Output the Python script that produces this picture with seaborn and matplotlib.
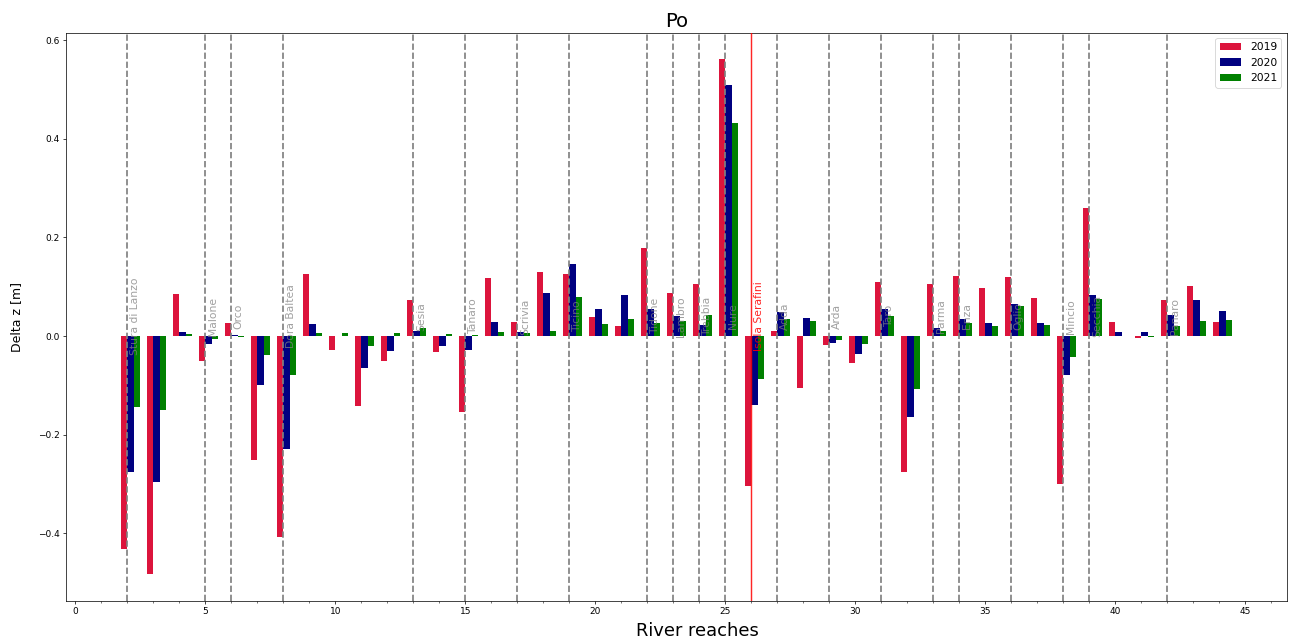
import numpy as np
import pandas as pd
import matplotlib
matplotlib.use("Agg")
import matplotlib.pyplot as plt
from matplotlib.ticker import MultipleLocator
import seaborn as sns

# ---- data ----
reaches = list(range(2, 45))
dz_2019 = [-0.432, -0.483, 0.085, -0.050, 0.026, -0.251, -0.408, 0.126, -0.028, -0.141,
           -0.050, 0.073, -0.033, -0.154, 0.117, 0.028, 0.130, 0.126, 0.038, 0.020,
           0.178, 0.088, 0.105, 0.562, -0.304, 0.011, -0.106, -0.019, -0.055, 0.110,
           -0.275, 0.105, 0.121, 0.097, 0.119, 0.077, -0.300, 0.260, 0.029, -0.003,
           0.073, 0.101, 0.028]
dz_2020 = [-0.275, -0.295, 0.009, -0.017, 0.003, -0.099, -0.229, 0.024, 0.0, -0.064,
           -0.030, 0.011, -0.020, -0.028, 0.028, 0.008, 0.088, 0.147, 0.055, 0.084,
           0.055, 0.041, 0.022, 0.509, -0.139, 0.049, 0.036, -0.015, -0.037, 0.055,
           -0.164, 0.016, 0.035, 0.026, 0.064, 0.026, -0.079, 0.083, 0.009, 0.009,
           0.043, 0.073, 0.051]
dz_2021 = [-0.143, -0.150, 0.005, -0.006, -0.001, -0.039, -0.079, 0.007, 0.007, -0.020,
           0.007, 0.016, 0.004, 0.002, 0.009, 0.006, 0.011, 0.079, 0.024, 0.034,
           0.026, 0.030, 0.043, 0.431, -0.088, 0.035, 0.030, -0.008, -0.017, 0.041,
           -0.108, 0.010, 0.026, 0.020, 0.060, 0.022, -0.042, 0.076, 0.0, -0.002,
           0.020, 0.030, 0.033]
years = ["2019", "2020", "2021"]
colors = {"2019": "crimson", "2020": "navy", "2021": "green"}

trib_pos = [2, 5, 6, 8, 13, 15, 17, 19, 22, 23, 24, 25, 27, 29, 31, 33, 34, 36, 38, 39, 42]
trib_names = ["Stura di Lanzo", "Malone", "Orco", "Dora Baltea", "Sesia", "Tanaro",
              "Scrivia", "Ticino", "Tidone", "Lambro", "Trebbia", "Nure", "Adda",
              "Arda", "Taro", "Parma", "Enza", "Oglio", "Mincio", "Secchia", "Panaro"]
dam_pos = 26
dam_name = "Isola Serafini"

df = pd.DataFrame({
    "reach": reaches * 3,
    "year": sum([[y] * len(reaches) for y in years], []),
    "dz": dz_2019 + dz_2020 + dz_2021,
})

# ---- figure ----
fig = plt.figure(figsize=(20, 642 / 64.6), dpi=64.6)
ax = fig.add_axes([0.051, 0.064, 0.945, 0.885])

sns.barplot(data=df, x="reach", y="dz", hue="year", hue_order=years,
            palette=colors, native_scale=True, width=0.75, errorbar=None,
            linewidth=0, saturation=1, ax=ax, zorder=2)
# groups start at the reach position (red bar left of the reach line)
for p in ax.patches:
    p.set_x(p.get_x() + 0.125)

for x, name in zip(trib_pos, trib_names):
    ax.axvline(x, color="gray", linestyle="--", linewidth=1.9, zorder=3)
    ax.text(x + 0.1, 0.04, name, rotation=90, ha="left", va="center",
            color="gray", alpha=0.75, fontsize=12, zorder=4)
ax.axvline(dam_pos, color="red", linewidth=1.6, alpha=0.85, zorder=3)
ax.text(dam_pos + 0.1, 0.04, dam_name, rotation=90, ha="left", va="center",
        color="red", alpha=0.85, fontsize=12, zorder=4)

ax.set_xlim(-0.36, 46.6)
ax.set_ylim(-0.537, 0.615)
ax.set_xticks(range(0, 46, 5))
ax.xaxis.set_minor_locator(MultipleLocator(1))
ax.tick_params(labelsize=10)
ax.set_title("Po", fontsize=22)
ax.set_xlabel("River reaches", fontsize=20, labelpad=6, x=0.517)
ax.set_ylabel("Delta z [m]", fontsize=14, labelpad=16)
ax.legend(loc="upper right", fontsize=12)

fig.savefig("out.png", dpi=64.6)
